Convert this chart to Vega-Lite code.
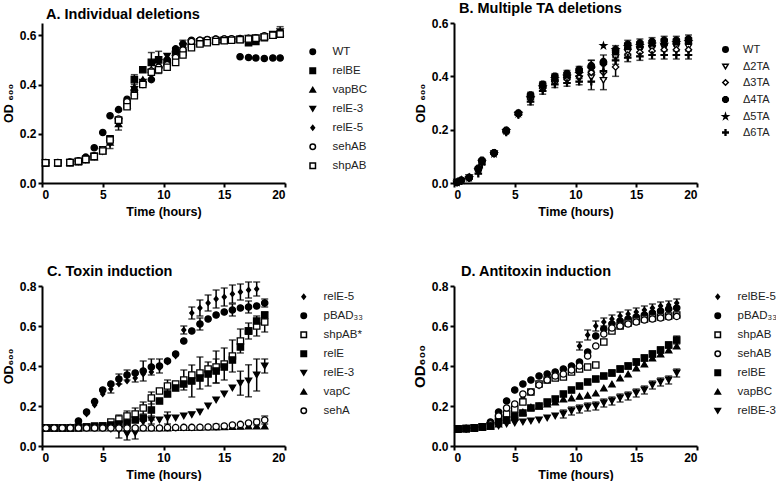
{
"$schema":"https://vega.github.io/schema/vega-lite/v6.json",
"background":"white",
"padding":{"left":2,"top":0,"right":0,"bottom":0},
"config":{
 "view":{"stroke":null},
 "font":"Liberation Sans",
 "axis":{"grid":false,"domainColor":"black","domainWidth":2,"tickColor":"black","tickWidth":2,"tickSize":4,"labelFont":"Liberation Sans","labelFontWeight":"bold","labelFontSize":12,"labelColor":"black","labelPadding":2,"titleFont":"Liberation Sans","titleFontWeight":"bold","titleFontSize":12.5,"titleColor":"black"},
 "axisY":{"titlePadding":4},
 "axisX":{"titlePadding":5},
 "legend":{"title":null,"labelFont":"Liberation Sans","labelFontSize":11.5,"labelColor":"#222","symbolStrokeColor":"black","symbolStrokeWidth":1.5,"symbolSize":30,"padding":0,"labelOffset":14,"rowPadding":6},
 "title":{"font":"Liberation Sans","fontSize":14.5,"fontWeight":"bold","anchor":"start","frame":"group","color":"black","offset":1}
},
"resolve":{"scale":{"x":"independent","y":"independent","shape":"independent","fill":"independent","stroke":"independent"},"legend":{"shape":"independent","fill":"independent","stroke":"independent"}},
"datasets":{
"A":[
{"s":"WT","t":0.3,"y":0.083},{"s":"WT","t":1.3,"y":0.083},{"s":"WT","t":2.3,"y":0.085},{"s":"WT","t":3.0,"y":0.09},{"s":"WT","t":3.6,"y":0.105},{"s":"WT","t":4.3,"y":0.143},{"s":"WT","t":5.0,"y":0.205},{"s":"WT","t":5.6,"y":0.273},{"s":"WT","t":6.3,"y":0.298},{"s":"WT","t":7.0,"y":0.34},{"s":"WT","t":7.6,"y":0.375},{"s":"WT","t":8.3,"y":0.41},{"s":"WT","t":9.0,"y":0.42},{"s":"WT","t":9.6,"y":0.47},{"s":"WT","t":10.3,"y":0.5},{"s":"WT","t":11.0,"y":0.545},{"s":"WT","t":11.6,"y":0.565},{"s":"WT","t":12.3,"y":0.58},{"s":"WT","t":13.0,"y":0.58},{"s":"WT","t":13.6,"y":0.583},{"s":"WT","t":14.3,"y":0.585},{"s":"WT","t":15.0,"y":0.585},{"s":"WT","t":15.6,"y":0.585},{"s":"WT","t":16.3,"y":0.513},{"s":"WT","t":17.0,"y":0.51},{"s":"WT","t":17.6,"y":0.508},{"s":"WT","t":18.3,"y":0.506},{"s":"WT","t":19.0,"y":0.508},{"s":"WT","t":19.6,"y":0.508},
{"s":"relBE","t":0.3,"y":0.082},{"s":"relBE","t":1.3,"y":0.082},{"s":"relBE","t":2.3,"y":0.083},{"s":"relBE","t":3.0,"y":0.087},{"s":"relBE","t":3.6,"y":0.096},{"s":"relBE","t":4.3,"y":0.108},{"s":"relBE","t":5.0,"y":0.135},{"s":"relBE","t":5.6,"y":0.18},{"s":"relBE","t":6.3,"y":0.255},{"s":"relBE","t":7.0,"y":0.32},{"s":"relBE","t":7.6,"y":0.42,"e":0.02},{"s":"relBE","t":8.3,"y":0.46},{"s":"relBE","t":9.0,"y":0.49,"e":0.04},{"s":"relBE","t":9.6,"y":0.5},{"s":"relBE","t":10.3,"y":0.49},{"s":"relBE","t":11.0,"y":0.525},{"s":"relBE","t":11.6,"y":0.53},{"s":"relBE","t":12.3,"y":0.565},{"s":"relBE","t":13.0,"y":0.57},{"s":"relBE","t":13.6,"y":0.575},{"s":"relBE","t":14.3,"y":0.578},{"s":"relBE","t":15.0,"y":0.58},{"s":"relBE","t":15.6,"y":0.582},{"s":"relBE","t":16.3,"y":0.583},{"s":"relBE","t":17.0,"y":0.57,"e":0.01},{"s":"relBE","t":17.6,"y":0.575},{"s":"relBE","t":18.3,"y":0.59},{"s":"relBE","t":19.0,"y":0.6},{"s":"relBE","t":19.6,"y":0.605},
{"s":"vapBC","t":0.3,"y":0.082},{"s":"vapBC","t":1.3,"y":0.082},{"s":"vapBC","t":2.3,"y":0.083},{"s":"vapBC","t":3.0,"y":0.087},{"s":"vapBC","t":3.6,"y":0.094},{"s":"vapBC","t":4.3,"y":0.105},{"s":"vapBC","t":5.0,"y":0.13},{"s":"vapBC","t":5.6,"y":0.165},{"s":"vapBC","t":6.3,"y":0.24,"e":0.025},{"s":"vapBC","t":7.0,"y":0.315},{"s":"vapBC","t":7.6,"y":0.39},{"s":"vapBC","t":8.3,"y":0.42},{"s":"vapBC","t":9.0,"y":0.46},{"s":"vapBC","t":9.6,"y":0.48},{"s":"vapBC","t":10.3,"y":0.5},{"s":"vapBC","t":11.0,"y":0.53,"e":0.02},{"s":"vapBC","t":11.6,"y":0.56,"e":0.02},{"s":"vapBC","t":12.3,"y":0.575},{"s":"vapBC","t":13.0,"y":0.578},{"s":"vapBC","t":13.6,"y":0.58},{"s":"vapBC","t":14.3,"y":0.582},{"s":"vapBC","t":15.0,"y":0.583},{"s":"vapBC","t":15.6,"y":0.585},{"s":"vapBC","t":16.3,"y":0.586},{"s":"vapBC","t":17.0,"y":0.588},{"s":"vapBC","t":17.6,"y":0.59},{"s":"vapBC","t":18.3,"y":0.595},{"s":"vapBC","t":19.0,"y":0.6},{"s":"vapBC","t":19.6,"y":0.61},
{"s":"relE-3","t":0.3,"y":0.082},{"s":"relE-3","t":1.3,"y":0.082},{"s":"relE-3","t":2.3,"y":0.083},{"s":"relE-3","t":3.0,"y":0.087},{"s":"relE-3","t":3.6,"y":0.095},{"s":"relE-3","t":4.3,"y":0.107},{"s":"relE-3","t":5.0,"y":0.128},{"s":"relE-3","t":5.6,"y":0.16,"e":0.02},{"s":"relE-3","t":6.3,"y":0.25},{"s":"relE-3","t":7.0,"y":0.32},{"s":"relE-3","t":7.6,"y":0.38},{"s":"relE-3","t":8.3,"y":0.41},{"s":"relE-3","t":9.0,"y":0.45},{"s":"relE-3","t":9.6,"y":0.49,"e":0.045},{"s":"relE-3","t":10.3,"y":0.515},{"s":"relE-3","t":11.0,"y":0.52},{"s":"relE-3","t":11.6,"y":0.555},{"s":"relE-3","t":12.3,"y":0.57},{"s":"relE-3","t":13.0,"y":0.575},{"s":"relE-3","t":13.6,"y":0.578},{"s":"relE-3","t":14.3,"y":0.58},{"s":"relE-3","t":15.0,"y":0.58},{"s":"relE-3","t":15.6,"y":0.582},{"s":"relE-3","t":16.3,"y":0.585},{"s":"relE-3","t":17.0,"y":0.588},{"s":"relE-3","t":17.6,"y":0.59},{"s":"relE-3","t":18.3,"y":0.595},{"s":"relE-3","t":19.0,"y":0.605},{"s":"relE-3","t":19.6,"y":0.615,"e":0.02},
{"s":"relE-5","t":0.3,"y":0.082},{"s":"relE-5","t":1.3,"y":0.082},{"s":"relE-5","t":2.3,"y":0.083},{"s":"relE-5","t":3.0,"y":0.087},{"s":"relE-5","t":3.6,"y":0.095},{"s":"relE-5","t":4.3,"y":0.108},{"s":"relE-5","t":5.0,"y":0.13},{"s":"relE-5","t":5.6,"y":0.17},{"s":"relE-5","t":6.3,"y":0.255},{"s":"relE-5","t":7.0,"y":0.325},{"s":"relE-5","t":7.6,"y":0.37},{"s":"relE-5","t":8.3,"y":0.405},{"s":"relE-5","t":9.0,"y":0.455},{"s":"relE-5","t":9.6,"y":0.465},{"s":"relE-5","t":10.3,"y":0.49},{"s":"relE-5","t":11.0,"y":0.51},{"s":"relE-5","t":11.6,"y":0.55},{"s":"relE-5","t":12.3,"y":0.57},{"s":"relE-5","t":13.0,"y":0.575},{"s":"relE-5","t":13.6,"y":0.578},{"s":"relE-5","t":14.3,"y":0.58},{"s":"relE-5","t":15.0,"y":0.582},{"s":"relE-5","t":15.6,"y":0.583},{"s":"relE-5","t":16.3,"y":0.585},{"s":"relE-5","t":17.0,"y":0.587},{"s":"relE-5","t":17.6,"y":0.59},{"s":"relE-5","t":18.3,"y":0.595},{"s":"relE-5","t":19.0,"y":0.6},{"s":"relE-5","t":19.6,"y":0.605},
{"s":"sehAB","t":0.3,"y":0.082},{"s":"sehAB","t":1.3,"y":0.082},{"s":"sehAB","t":2.3,"y":0.084},{"s":"sehAB","t":3.0,"y":0.088},{"s":"sehAB","t":3.6,"y":0.097},{"s":"sehAB","t":4.3,"y":0.11},{"s":"sehAB","t":5.0,"y":0.135},{"s":"sehAB","t":5.6,"y":0.175},{"s":"sehAB","t":6.3,"y":0.26},{"s":"sehAB","t":7.0,"y":0.33},{"s":"sehAB","t":7.6,"y":0.36},{"s":"sehAB","t":8.3,"y":0.4},{"s":"sehAB","t":9.0,"y":0.455},{"s":"sehAB","t":9.6,"y":0.47},{"s":"sehAB","t":10.3,"y":0.48},{"s":"sehAB","t":11.0,"y":0.51},{"s":"sehAB","t":11.6,"y":0.54},{"s":"sehAB","t":12.3,"y":0.575},{"s":"sehAB","t":13.0,"y":0.58},{"s":"sehAB","t":13.6,"y":0.582},{"s":"sehAB","t":14.3,"y":0.584},{"s":"sehAB","t":15.0,"y":0.585},{"s":"sehAB","t":15.6,"y":0.586},{"s":"sehAB","t":16.3,"y":0.587},{"s":"sehAB","t":17.0,"y":0.588},{"s":"sehAB","t":17.6,"y":0.59},{"s":"sehAB","t":18.3,"y":0.598},{"s":"sehAB","t":19.0,"y":0.602},{"s":"sehAB","t":19.6,"y":0.607},
{"s":"shpAB","t":0.3,"y":0.082},{"s":"shpAB","t":1.3,"y":0.082},{"s":"shpAB","t":2.3,"y":0.083},{"s":"shpAB","t":3.0,"y":0.088},{"s":"shpAB","t":3.6,"y":0.096},{"s":"shpAB","t":4.3,"y":0.108},{"s":"shpAB","t":5.0,"y":0.13},{"s":"shpAB","t":5.6,"y":0.175},{"s":"shpAB","t":6.3,"y":0.255},{"s":"shpAB","t":7.0,"y":0.31},{"s":"shpAB","t":7.6,"y":0.355},{"s":"shpAB","t":8.3,"y":0.4},{"s":"shpAB","t":9.0,"y":0.45},{"s":"shpAB","t":9.6,"y":0.46},{"s":"shpAB","t":10.3,"y":0.47},{"s":"shpAB","t":11.0,"y":0.49},{"s":"shpAB","t":11.6,"y":0.52},{"s":"shpAB","t":12.3,"y":0.55},{"s":"shpAB","t":13.0,"y":0.565},{"s":"shpAB","t":13.6,"y":0.57},{"s":"shpAB","t":14.3,"y":0.575},{"s":"shpAB","t":15.0,"y":0.578},{"s":"shpAB","t":15.6,"y":0.58},{"s":"shpAB","t":16.3,"y":0.582},{"s":"shpAB","t":17.0,"y":0.585},{"s":"shpAB","t":17.6,"y":0.588},{"s":"shpAB","t":18.3,"y":0.593},{"s":"shpAB","t":19.0,"y":0.6},{"s":"shpAB","t":19.6,"y":0.605}
],
"B":[
{"s":"WT","t":0.25,"y":0.002},{"s":"WT","t":0.6,"y":0.01},{"s":"WT","t":1.25,"y":0.02},{"s":"WT","t":2.0,"y":0.05},{"s":"WT","t":2.3,"y":0.08},{"s":"WT","t":3.3,"y":0.112},{"s":"WT","t":4.3,"y":0.195},{"s":"WT","t":5.3,"y":0.26},{"s":"WT","t":6.3,"y":0.325},{"s":"WT","t":7.3,"y":0.36},{"s":"WT","t":8.3,"y":0.385},{"s":"WT","t":9.3,"y":0.4},{"s":"WT","t":10.3,"y":0.42},{"s":"WT","t":11.3,"y":0.44,"e":0.02},{"s":"WT","t":12.3,"y":0.455},{"s":"WT","t":13.3,"y":0.49},{"s":"WT","t":14.3,"y":0.505},{"s":"WT","t":15.3,"y":0.51},{"s":"WT","t":16.3,"y":0.515},{"s":"WT","t":17.3,"y":0.52},{"s":"WT","t":18.3,"y":0.525},{"s":"WT","t":19.3,"y":0.53},
{"s":"Δ2TA","t":0.25,"y":0.003},{"s":"Δ2TA","t":0.6,"y":0.008},{"s":"Δ2TA","t":1.25,"y":0.02},{"s":"Δ2TA","t":2.0,"y":0.045},{"s":"Δ2TA","t":2.3,"y":0.075},{"s":"Δ2TA","t":3.3,"y":0.11},{"s":"Δ2TA","t":4.3,"y":0.19},{"s":"Δ2TA","t":5.3,"y":0.255},{"s":"Δ2TA","t":6.3,"y":0.31},{"s":"Δ2TA","t":7.3,"y":0.35},{"s":"Δ2TA","t":8.3,"y":0.375},{"s":"Δ2TA","t":9.3,"y":0.385},{"s":"Δ2TA","t":10.3,"y":0.39},{"s":"Δ2TA","t":11.3,"y":0.395},{"s":"Δ2TA","t":12.3,"y":0.385,"e":0.035},{"s":"Δ2TA","t":13.3,"y":0.47},{"s":"Δ2TA","t":14.3,"y":0.49},{"s":"Δ2TA","t":15.3,"y":0.5},{"s":"Δ2TA","t":16.3,"y":0.505},{"s":"Δ2TA","t":17.3,"y":0.51},{"s":"Δ2TA","t":18.3,"y":0.51},{"s":"Δ2TA","t":19.3,"y":0.51},
{"s":"Δ3TA","t":0.25,"y":0.002},{"s":"Δ3TA","t":0.6,"y":0.01},{"s":"Δ3TA","t":1.25,"y":0.022},{"s":"Δ3TA","t":2.0,"y":0.05},{"s":"Δ3TA","t":2.3,"y":0.08},{"s":"Δ3TA","t":3.3,"y":0.112},{"s":"Δ3TA","t":4.3,"y":0.192},{"s":"Δ3TA","t":5.3,"y":0.258},{"s":"Δ3TA","t":6.3,"y":0.315},{"s":"Δ3TA","t":7.3,"y":0.355},{"s":"Δ3TA","t":8.3,"y":0.38},{"s":"Δ3TA","t":9.3,"y":0.39},{"s":"Δ3TA","t":10.3,"y":0.4},{"s":"Δ3TA","t":11.3,"y":0.415},{"s":"Δ3TA","t":12.3,"y":0.415},{"s":"Δ3TA","t":13.3,"y":0.435,"e":0.035},{"s":"Δ3TA","t":14.3,"y":0.48},{"s":"Δ3TA","t":15.3,"y":0.49},{"s":"Δ3TA","t":16.3,"y":0.495},{"s":"Δ3TA","t":17.3,"y":0.5},{"s":"Δ3TA","t":18.3,"y":0.5},{"s":"Δ3TA","t":19.3,"y":0.5},
{"s":"Δ4TA","t":0.25,"y":0.003},{"s":"Δ4TA","t":0.6,"y":0.01},{"s":"Δ4TA","t":1.25,"y":0.02},{"s":"Δ4TA","t":2.0,"y":0.055},{"s":"Δ4TA","t":2.3,"y":0.085},{"s":"Δ4TA","t":3.3,"y":0.113},{"s":"Δ4TA","t":4.3,"y":0.198},{"s":"Δ4TA","t":5.3,"y":0.262},{"s":"Δ4TA","t":6.3,"y":0.33,"e":0.01},{"s":"Δ4TA","t":7.3,"y":0.37,"e":0.01},{"s":"Δ4TA","t":8.3,"y":0.4,"e":0.01},{"s":"Δ4TA","t":9.3,"y":0.41,"e":0.012},{"s":"Δ4TA","t":10.3,"y":0.425,"e":0.012},{"s":"Δ4TA","t":11.3,"y":0.435,"e":0.025},{"s":"Δ4TA","t":12.3,"y":0.45,"e":0.03},{"s":"Δ4TA","t":13.3,"y":0.5,"e":0.015},{"s":"Δ4TA","t":14.3,"y":0.52,"e":0.015},{"s":"Δ4TA","t":15.3,"y":0.525,"e":0.015},{"s":"Δ4TA","t":16.3,"y":0.53,"e":0.015},{"s":"Δ4TA","t":17.3,"y":0.535,"e":0.015},{"s":"Δ4TA","t":18.3,"y":0.535,"e":0.015},{"s":"Δ4TA","t":19.3,"y":0.54,"e":0.015},
{"s":"Δ5TA","t":0.25,"y":0.002},{"s":"Δ5TA","t":0.6,"y":0.01},{"s":"Δ5TA","t":1.25,"y":0.02},{"s":"Δ5TA","t":2.0,"y":0.05},{"s":"Δ5TA","t":2.3,"y":0.08},{"s":"Δ5TA","t":3.3,"y":0.11},{"s":"Δ5TA","t":4.3,"y":0.195},{"s":"Δ5TA","t":5.3,"y":0.26},{"s":"Δ5TA","t":6.3,"y":0.32},{"s":"Δ5TA","t":7.3,"y":0.36},{"s":"Δ5TA","t":8.3,"y":0.39},{"s":"Δ5TA","t":9.3,"y":0.4},{"s":"Δ5TA","t":10.3,"y":0.41},{"s":"Δ5TA","t":11.3,"y":0.43},{"s":"Δ5TA","t":12.3,"y":0.515},{"s":"Δ5TA","t":13.3,"y":0.5},{"s":"Δ5TA","t":14.3,"y":0.51},{"s":"Δ5TA","t":15.3,"y":0.515},{"s":"Δ5TA","t":16.3,"y":0.52},{"s":"Δ5TA","t":17.3,"y":0.52},{"s":"Δ5TA","t":18.3,"y":0.525},{"s":"Δ5TA","t":19.3,"y":0.53},
{"s":"Δ6TA","t":0.25,"y":0.002},{"s":"Δ6TA","t":0.6,"y":0.008},{"s":"Δ6TA","t":1.25,"y":0.018},{"s":"Δ6TA","t":2.0,"y":0.035},{"s":"Δ6TA","t":2.3,"y":0.07},{"s":"Δ6TA","t":3.3,"y":0.11},{"s":"Δ6TA","t":4.3,"y":0.19},{"s":"Δ6TA","t":5.3,"y":0.255},{"s":"Δ6TA","t":6.3,"y":0.305,"e":0.012},{"s":"Δ6TA","t":7.3,"y":0.345,"e":0.012},{"s":"Δ6TA","t":8.3,"y":0.37,"e":0.012},{"s":"Δ6TA","t":9.3,"y":0.375,"e":0.012},{"s":"Δ6TA","t":10.3,"y":0.38,"e":0.012},{"s":"Δ6TA","t":11.3,"y":0.38,"e":0.03},{"s":"Δ6TA","t":12.3,"y":0.42,"e":0.03},{"s":"Δ6TA","t":13.3,"y":0.46,"e":0.015},{"s":"Δ6TA","t":14.3,"y":0.47,"e":0.015},{"s":"Δ6TA","t":15.3,"y":0.475,"e":0.015},{"s":"Δ6TA","t":16.3,"y":0.48,"e":0.015},{"s":"Δ6TA","t":17.3,"y":0.48,"e":0.015},{"s":"Δ6TA","t":18.3,"y":0.48,"e":0.015},{"s":"Δ6TA","t":19.3,"y":0.48,"e":0.015}
],
"C":[
{"s":"relE-5","t":0.33,"y":0.09},{"s":"relE-5","t":1.0,"y":0.09},{"s":"relE-5","t":1.67,"y":0.09},{"s":"relE-5","t":2.33,"y":0.09},{"s":"relE-5","t":3.0,"y":0.1},{"s":"relE-5","t":3.67,"y":0.16},{"s":"relE-5","t":4.33,"y":0.205},{"s":"relE-5","t":5.0,"y":0.26},{"s":"relE-5","t":5.67,"y":0.285,"e":0.02},{"s":"relE-5","t":6.33,"y":0.31},{"s":"relE-5","t":7.0,"y":0.325},{"s":"relE-5","t":7.67,"y":0.34,"e":0.02},{"s":"relE-5","t":8.33,"y":0.36},{"s":"relE-5","t":9.0,"y":0.37},{"s":"relE-5","t":9.67,"y":0.39},{"s":"relE-5","t":10.33,"y":0.42},{"s":"relE-5","t":11.0,"y":0.45},{"s":"relE-5","t":11.67,"y":0.58,"e":0.02},{"s":"relE-5","t":12.33,"y":0.665,"e":0.03},{"s":"relE-5","t":13.0,"y":0.69,"e":0.04},{"s":"relE-5","t":13.67,"y":0.715,"e":0.04},{"s":"relE-5","t":14.33,"y":0.735,"e":0.045},{"s":"relE-5","t":15.0,"y":0.745,"e":0.045},{"s":"relE-5","t":15.67,"y":0.76,"e":0.045},{"s":"relE-5","t":16.33,"y":0.77,"e":0.04},{"s":"relE-5","t":17.0,"y":0.78,"e":0.04},{"s":"relE-5","t":17.67,"y":0.785,"e":0.035},
{"s":"pBAD33","t":0.33,"y":0.09},{"s":"pBAD33","t":1.0,"y":0.09},{"s":"pBAD33","t":1.67,"y":0.09},{"s":"pBAD33","t":2.33,"y":0.092},{"s":"pBAD33","t":3.0,"y":0.125},{"s":"pBAD33","t":3.67,"y":0.17},{"s":"pBAD33","t":4.33,"y":0.222},{"s":"pBAD33","t":5.0,"y":0.28},{"s":"pBAD33","t":5.67,"y":0.31},{"s":"pBAD33","t":6.33,"y":0.335,"e":0.025},{"s":"pBAD33","t":7.0,"y":0.355,"e":0.025},{"s":"pBAD33","t":7.67,"y":0.365},{"s":"pBAD33","t":8.33,"y":0.375,"e":0.05},{"s":"pBAD33","t":9.0,"y":0.395,"e":0.04},{"s":"pBAD33","t":9.67,"y":0.4,"e":0.035},{"s":"pBAD33","t":10.33,"y":0.425},{"s":"pBAD33","t":11.0,"y":0.46},{"s":"pBAD33","t":11.67,"y":0.525},{"s":"pBAD33","t":12.33,"y":0.575},{"s":"pBAD33","t":13.0,"y":0.61,"e":0.03},{"s":"pBAD33","t":13.67,"y":0.635},{"s":"pBAD33","t":14.33,"y":0.655},{"s":"pBAD33","t":15.0,"y":0.67},{"s":"pBAD33","t":15.67,"y":0.68,"e":0.03},{"s":"pBAD33","t":16.33,"y":0.69},{"s":"pBAD33","t":17.0,"y":0.695,"e":0.03},{"s":"pBAD33","t":17.67,"y":0.7},{"s":"pBAD33","t":18.33,"y":0.715,"e":0.02},
{"s":"shpAB*","t":0.33,"y":0.09},{"s":"shpAB*","t":1.0,"y":0.09},{"s":"shpAB*","t":1.67,"y":0.09},{"s":"shpAB*","t":2.33,"y":0.09},{"s":"shpAB*","t":3.0,"y":0.09},{"s":"shpAB*","t":3.67,"y":0.095},{"s":"shpAB*","t":4.33,"y":0.095},{"s":"shpAB*","t":5.0,"y":0.1},{"s":"shpAB*","t":5.67,"y":0.12},{"s":"shpAB*","t":6.33,"y":0.135,"e":0.02},{"s":"shpAB*","t":7.0,"y":0.15,"e":0.025},{"s":"shpAB*","t":7.67,"y":0.16,"e":0.03},{"s":"shpAB*","t":8.33,"y":0.19,"e":0.03},{"s":"shpAB*","t":9.0,"y":0.24,"e":0.03},{"s":"shpAB*","t":9.67,"y":0.275},{"s":"shpAB*","t":10.33,"y":0.3,"e":0.03},{"s":"shpAB*","t":11.0,"y":0.31},{"s":"shpAB*","t":11.67,"y":0.33,"e":0.05},{"s":"shpAB*","t":12.33,"y":0.355},{"s":"shpAB*","t":13.0,"y":0.365,"e":0.08},{"s":"shpAB*","t":13.67,"y":0.385},{"s":"shpAB*","t":14.33,"y":0.395,"e":0.08},{"s":"shpAB*","t":15.0,"y":0.41,"e":0.08},{"s":"shpAB*","t":15.67,"y":0.45,"e":0.08},{"s":"shpAB*","t":16.33,"y":0.525,"e":0.06},{"s":"shpAB*","t":17.0,"y":0.575,"e":0.04},{"s":"shpAB*","t":17.67,"y":0.6,"e":0.05},{"s":"shpAB*","t":18.33,"y":0.62,"e":0.05},
{"s":"relE","t":0.33,"y":0.09},{"s":"relE","t":1.0,"y":0.09},{"s":"relE","t":1.67,"y":0.09},{"s":"relE","t":2.33,"y":0.09},{"s":"relE","t":3.0,"y":0.095},{"s":"relE","t":3.67,"y":0.095},{"s":"relE","t":4.33,"y":0.1},{"s":"relE","t":5.0,"y":0.1},{"s":"relE","t":5.67,"y":0.105},{"s":"relE","t":6.33,"y":0.11},{"s":"relE","t":7.0,"y":0.115},{"s":"relE","t":7.67,"y":0.13},{"s":"relE","t":8.33,"y":0.14},{"s":"relE","t":9.0,"y":0.18,"e":0.05},{"s":"relE","t":9.67,"y":0.225},{"s":"relE","t":10.33,"y":0.26},{"s":"relE","t":11.0,"y":0.29},{"s":"relE","t":11.67,"y":0.31},{"s":"relE","t":12.33,"y":0.325,"e":0.08},{"s":"relE","t":13.0,"y":0.34},{"s":"relE","t":13.67,"y":0.36,"e":0.06},{"s":"relE","t":14.33,"y":0.375,"e":0.06},{"s":"relE","t":15.0,"y":0.395},{"s":"relE","t":15.67,"y":0.43},{"s":"relE","t":16.33,"y":0.495},{"s":"relE","t":17.0,"y":0.575},{"s":"relE","t":17.67,"y":0.625},{"s":"relE","t":18.33,"y":0.655},
{"s":"relE-3","t":0.33,"y":0.09},{"s":"relE-3","t":1.0,"y":0.09},{"s":"relE-3","t":1.67,"y":0.09},{"s":"relE-3","t":2.33,"y":0.09},{"s":"relE-3","t":3.0,"y":0.09},{"s":"relE-3","t":3.67,"y":0.09},{"s":"relE-3","t":4.33,"y":0.09},{"s":"relE-3","t":5.0,"y":0.09},{"s":"relE-3","t":5.67,"y":0.085},{"s":"relE-3","t":6.33,"y":0.08,"e":0.04},{"s":"relE-3","t":7.0,"y":0.06,"e":0.03},{"s":"relE-3","t":7.67,"y":0.065,"e":0.03},{"s":"relE-3","t":8.33,"y":0.12},{"s":"relE-3","t":9.0,"y":0.13,"e":0.02},{"s":"relE-3","t":9.67,"y":0.13},{"s":"relE-3","t":10.33,"y":0.14,"e":0.03},{"s":"relE-3","t":11.0,"y":0.14},{"s":"relE-3","t":11.67,"y":0.15},{"s":"relE-3","t":12.33,"y":0.157},{"s":"relE-3","t":13.0,"y":0.17},{"s":"relE-3","t":13.67,"y":0.2},{"s":"relE-3","t":14.33,"y":0.23},{"s":"relE-3","t":15.0,"y":0.26},{"s":"relE-3","t":15.67,"y":0.29},{"s":"relE-3","t":16.33,"y":0.314,"e":0.06},{"s":"relE-3","t":17.0,"y":0.326,"e":0.08},{"s":"relE-3","t":17.67,"y":0.355,"e":0.08},{"s":"relE-3","t":18.33,"y":0.4,"e":0.035},
{"s":"vapC","t":0.33,"y":0.09},{"s":"vapC","t":1.0,"y":0.09},{"s":"vapC","t":1.67,"y":0.09},{"s":"vapC","t":2.33,"y":0.09},{"s":"vapC","t":3.0,"y":0.09},{"s":"vapC","t":3.67,"y":0.09},{"s":"vapC","t":4.33,"y":0.09},{"s":"vapC","t":5.0,"y":0.09},{"s":"vapC","t":5.67,"y":0.09},{"s":"vapC","t":6.33,"y":0.09},{"s":"vapC","t":7.0,"y":0.09},{"s":"vapC","t":7.67,"y":0.09},{"s":"vapC","t":8.33,"y":0.09},{"s":"vapC","t":9.0,"y":0.09},{"s":"vapC","t":9.67,"y":0.09},{"s":"vapC","t":10.33,"y":0.09},{"s":"vapC","t":11.0,"y":0.092},{"s":"vapC","t":11.67,"y":0.092},{"s":"vapC","t":12.33,"y":0.092},{"s":"vapC","t":13.0,"y":0.093},{"s":"vapC","t":13.67,"y":0.094},{"s":"vapC","t":14.33,"y":0.095},{"s":"vapC","t":15.0,"y":0.096},{"s":"vapC","t":15.67,"y":0.097},{"s":"vapC","t":16.33,"y":0.098},{"s":"vapC","t":17.0,"y":0.1},{"s":"vapC","t":17.67,"y":0.1},{"s":"vapC","t":18.33,"y":0.1},
{"s":"sehA","t":0.33,"y":0.09},{"s":"sehA","t":1.0,"y":0.09},{"s":"sehA","t":1.67,"y":0.09},{"s":"sehA","t":2.33,"y":0.09},{"s":"sehA","t":3.0,"y":0.09},{"s":"sehA","t":3.67,"y":0.09},{"s":"sehA","t":4.33,"y":0.09},{"s":"sehA","t":5.0,"y":0.09},{"s":"sehA","t":5.67,"y":0.09},{"s":"sehA","t":6.33,"y":0.09},{"s":"sehA","t":7.0,"y":0.09},{"s":"sehA","t":7.67,"y":0.09},{"s":"sehA","t":8.33,"y":0.09},{"s":"sehA","t":9.0,"y":0.09},{"s":"sehA","t":9.67,"y":0.09},{"s":"sehA","t":10.33,"y":0.092},{"s":"sehA","t":11.0,"y":0.092},{"s":"sehA","t":11.67,"y":0.093},{"s":"sehA","t":12.33,"y":0.093},{"s":"sehA","t":13.0,"y":0.094},{"s":"sehA","t":13.67,"y":0.095},{"s":"sehA","t":14.33,"y":0.097,"e":0.012},{"s":"sehA","t":15.0,"y":0.1},{"s":"sehA","t":15.67,"y":0.105},{"s":"sehA","t":16.33,"y":0.108},{"s":"sehA","t":17.0,"y":0.115},{"s":"sehA","t":17.67,"y":0.12,"e":0.015},{"s":"sehA","t":18.33,"y":0.13,"e":0.02}
],
"D":[
{"s":"relBE-5","t":0.33,"y":0.085},{"s":"relBE-5","t":1.0,"y":0.087},{"s":"relBE-5","t":1.67,"y":0.09},{"s":"relBE-5","t":2.33,"y":0.095},{"s":"relBE-5","t":3.0,"y":0.11},{"s":"relBE-5","t":3.67,"y":0.15},{"s":"relBE-5","t":4.33,"y":0.18},{"s":"relBE-5","t":5.0,"y":0.2},{"s":"relBE-5","t":5.67,"y":0.24},{"s":"relBE-5","t":6.33,"y":0.27},{"s":"relBE-5","t":7.0,"y":0.3},{"s":"relBE-5","t":7.67,"y":0.33},{"s":"relBE-5","t":8.33,"y":0.35},{"s":"relBE-5","t":9.0,"y":0.37},{"s":"relBE-5","t":9.67,"y":0.39,"e":0.015},{"s":"relBE-5","t":10.33,"y":0.5,"e":0.02},{"s":"relBE-5","t":11.0,"y":0.555,"e":0.025},{"s":"relBE-5","t":11.67,"y":0.6,"e":0.025},{"s":"relBE-5","t":12.33,"y":0.62,"e":0.02},{"s":"relBE-5","t":13.0,"y":0.635,"e":0.02},{"s":"relBE-5","t":13.67,"y":0.65,"e":0.02},{"s":"relBE-5","t":14.33,"y":0.66,"e":0.02},{"s":"relBE-5","t":15.0,"y":0.67,"e":0.02},{"s":"relBE-5","t":15.67,"y":0.68,"e":0.02},{"s":"relBE-5","t":16.33,"y":0.69,"e":0.02},{"s":"relBE-5","t":17.0,"y":0.7,"e":0.02},{"s":"relBE-5","t":17.67,"y":0.705,"e":0.02},{"s":"relBE-5","t":18.33,"y":0.715,"e":0.02},
{"s":"pBAD33","t":0.33,"y":0.085},{"s":"pBAD33","t":1.0,"y":0.087},{"s":"pBAD33","t":1.67,"y":0.09},{"s":"pBAD33","t":2.33,"y":0.095},{"s":"pBAD33","t":3.0,"y":0.12},{"s":"pBAD33","t":3.67,"y":0.17},{"s":"pBAD33","t":4.33,"y":0.225},{"s":"pBAD33","t":5.0,"y":0.28},{"s":"pBAD33","t":5.67,"y":0.31},{"s":"pBAD33","t":6.33,"y":0.33},{"s":"pBAD33","t":7.0,"y":0.35},{"s":"pBAD33","t":7.67,"y":0.36},{"s":"pBAD33","t":8.33,"y":0.37},{"s":"pBAD33","t":9.0,"y":0.385},{"s":"pBAD33","t":9.67,"y":0.4},{"s":"pBAD33","t":10.33,"y":0.42},{"s":"pBAD33","t":11.0,"y":0.47},{"s":"pBAD33","t":11.67,"y":0.55},{"s":"pBAD33","t":12.33,"y":0.585},{"s":"pBAD33","t":13.0,"y":0.61},{"s":"pBAD33","t":13.67,"y":0.625},{"s":"pBAD33","t":14.33,"y":0.635},{"s":"pBAD33","t":15.0,"y":0.645},{"s":"pBAD33","t":15.67,"y":0.655},{"s":"pBAD33","t":16.33,"y":0.665},{"s":"pBAD33","t":17.0,"y":0.675},{"s":"pBAD33","t":17.67,"y":0.685},{"s":"pBAD33","t":18.33,"y":0.69},
{"s":"shpAB","t":0.33,"y":0.085},{"s":"shpAB","t":1.0,"y":0.087},{"s":"shpAB","t":1.67,"y":0.09},{"s":"shpAB","t":2.33,"y":0.095},{"s":"shpAB","t":3.0,"y":0.1},{"s":"shpAB","t":3.67,"y":0.14},{"s":"shpAB","t":4.33,"y":0.16},{"s":"shpAB","t":5.0,"y":0.185},{"s":"shpAB","t":5.67,"y":0.22},{"s":"shpAB","t":6.33,"y":0.27},{"s":"shpAB","t":7.0,"y":0.31},{"s":"shpAB","t":7.67,"y":0.33},{"s":"shpAB","t":8.33,"y":0.34},{"s":"shpAB","t":9.0,"y":0.345},{"s":"shpAB","t":9.67,"y":0.37},{"s":"shpAB","t":10.33,"y":0.385},{"s":"shpAB","t":11.0,"y":0.395},{"s":"shpAB","t":11.67,"y":0.405},{"s":"shpAB","t":12.33,"y":0.52},{"s":"shpAB","t":13.0,"y":0.575},{"s":"shpAB","t":13.67,"y":0.6},{"s":"shpAB","t":14.33,"y":0.615},{"s":"shpAB","t":15.0,"y":0.625},{"s":"shpAB","t":15.67,"y":0.635},{"s":"shpAB","t":16.33,"y":0.64},{"s":"shpAB","t":17.0,"y":0.645},{"s":"shpAB","t":17.67,"y":0.65},{"s":"shpAB","t":18.33,"y":0.655},
{"s":"sehAB","t":0.33,"y":0.085},{"s":"sehAB","t":1.0,"y":0.087},{"s":"sehAB","t":1.67,"y":0.09},{"s":"sehAB","t":2.33,"y":0.095},{"s":"sehAB","t":3.0,"y":0.11},{"s":"sehAB","t":3.67,"y":0.15},{"s":"sehAB","t":4.33,"y":0.19},{"s":"sehAB","t":5.0,"y":0.21},{"s":"sehAB","t":5.67,"y":0.26},{"s":"sehAB","t":6.33,"y":0.27},{"s":"sehAB","t":7.0,"y":0.305},{"s":"sehAB","t":7.67,"y":0.33},{"s":"sehAB","t":8.33,"y":0.35},{"s":"sehAB","t":9.0,"y":0.36},{"s":"sehAB","t":9.67,"y":0.38},{"s":"sehAB","t":10.33,"y":0.4},{"s":"sehAB","t":11.0,"y":0.45},{"s":"sehAB","t":11.67,"y":0.5},{"s":"sehAB","t":12.33,"y":0.56},{"s":"sehAB","t":13.0,"y":0.59},{"s":"sehAB","t":13.67,"y":0.6},{"s":"sehAB","t":14.33,"y":0.61},{"s":"sehAB","t":15.0,"y":0.62},{"s":"sehAB","t":15.67,"y":0.63},{"s":"sehAB","t":16.33,"y":0.635},{"s":"sehAB","t":17.0,"y":0.64},{"s":"sehAB","t":17.67,"y":0.645},{"s":"sehAB","t":18.33,"y":0.648},
{"s":"relBE","t":0.33,"y":0.085},{"s":"relBE","t":1.0,"y":0.087},{"s":"relBE","t":1.67,"y":0.09},{"s":"relBE","t":2.33,"y":0.095},{"s":"relBE","t":3.0,"y":0.1},{"s":"relBE","t":3.67,"y":0.12},{"s":"relBE","t":4.33,"y":0.13},{"s":"relBE","t":5.0,"y":0.15},{"s":"relBE","t":5.67,"y":0.165},{"s":"relBE","t":6.33,"y":0.19},{"s":"relBE","t":7.0,"y":0.2},{"s":"relBE","t":7.67,"y":0.22},{"s":"relBE","t":8.33,"y":0.235},{"s":"relBE","t":9.0,"y":0.26},{"s":"relBE","t":9.67,"y":0.28,"e":0.012},{"s":"relBE","t":10.33,"y":0.3,"e":0.012},{"s":"relBE","t":11.0,"y":0.32,"e":0.012},{"s":"relBE","t":11.67,"y":0.335,"e":0.012},{"s":"relBE","t":12.33,"y":0.35,"e":0.012},{"s":"relBE","t":13.0,"y":0.365,"e":0.015},{"s":"relBE","t":13.67,"y":0.385,"e":0.015},{"s":"relBE","t":14.33,"y":0.4,"e":0.015},{"s":"relBE","t":15.0,"y":0.42,"e":0.015},{"s":"relBE","t":15.67,"y":0.44,"e":0.015},{"s":"relBE","t":16.33,"y":0.46,"e":0.015},{"s":"relBE","t":17.0,"y":0.48,"e":0.015},{"s":"relBE","t":17.67,"y":0.505,"e":0.015},{"s":"relBE","t":18.33,"y":0.53,"e":0.02},
{"s":"vapBC","t":0.33,"y":0.085},{"s":"vapBC","t":1.0,"y":0.087},{"s":"vapBC","t":1.67,"y":0.09},{"s":"vapBC","t":2.33,"y":0.095},{"s":"vapBC","t":3.0,"y":0.1},{"s":"vapBC","t":3.67,"y":0.11},{"s":"vapBC","t":4.33,"y":0.13},{"s":"vapBC","t":5.0,"y":0.145},{"s":"vapBC","t":5.67,"y":0.17},{"s":"vapBC","t":6.33,"y":0.195},{"s":"vapBC","t":7.0,"y":0.2},{"s":"vapBC","t":7.67,"y":0.21},{"s":"vapBC","t":8.33,"y":0.22},{"s":"vapBC","t":9.0,"y":0.235},{"s":"vapBC","t":9.67,"y":0.24},{"s":"vapBC","t":10.33,"y":0.248},{"s":"vapBC","t":11.0,"y":0.253},{"s":"vapBC","t":11.67,"y":0.264},{"s":"vapBC","t":12.33,"y":0.29},{"s":"vapBC","t":13.0,"y":0.31},{"s":"vapBC","t":13.67,"y":0.34},{"s":"vapBC","t":14.33,"y":0.36},{"s":"vapBC","t":15.0,"y":0.39},{"s":"vapBC","t":15.67,"y":0.41},{"s":"vapBC","t":16.33,"y":0.44},{"s":"vapBC","t":17.0,"y":0.46},{"s":"vapBC","t":17.67,"y":0.48},{"s":"vapBC","t":18.33,"y":0.5},
{"s":"relBE-3","t":0.33,"y":0.085},{"s":"relBE-3","t":1.0,"y":0.087},{"s":"relBE-3","t":1.67,"y":0.09},{"s":"relBE-3","t":2.33,"y":0.095},{"s":"relBE-3","t":3.0,"y":0.1},{"s":"relBE-3","t":3.67,"y":0.1},{"s":"relBE-3","t":4.33,"y":0.11},{"s":"relBE-3","t":5.0,"y":0.115},{"s":"relBE-3","t":5.67,"y":0.12},{"s":"relBE-3","t":6.33,"y":0.125},{"s":"relBE-3","t":7.0,"y":0.13},{"s":"relBE-3","t":7.67,"y":0.14},{"s":"relBE-3","t":8.33,"y":0.15},{"s":"relBE-3","t":9.0,"y":0.16,"e":0.02},{"s":"relBE-3","t":9.67,"y":0.175,"e":0.02},{"s":"relBE-3","t":10.33,"y":0.185,"e":0.02},{"s":"relBE-3","t":11.0,"y":0.195,"e":0.02},{"s":"relBE-3","t":11.67,"y":0.2,"e":0.02},{"s":"relBE-3","t":12.33,"y":0.215,"e":0.02},{"s":"relBE-3","t":13.0,"y":0.225,"e":0.02},{"s":"relBE-3","t":13.67,"y":0.24,"e":0.02},{"s":"relBE-3","t":14.33,"y":0.25,"e":0.02},{"s":"relBE-3","t":15.0,"y":0.265,"e":0.02},{"s":"relBE-3","t":15.67,"y":0.28,"e":0.02},{"s":"relBE-3","t":16.33,"y":0.305,"e":0.02},{"s":"relBE-3","t":17.0,"y":0.32,"e":0.02},{"s":"relBE-3","t":17.67,"y":0.33,"e":0.02},{"s":"relBE-3","t":18.33,"y":0.365,"e":0.02}
]
},
"spacing":45,
"vconcat":[
{"spacing":46,"resolve":{"scale":{"x":"independent","y":"independent","shape":"independent","fill":"independent","stroke":"independent"},"legend":{"shape":"independent","fill":"independent","stroke":"independent"}},"hconcat":[
 {"title":{"text":"A. Individual deletions","dx":4},"width":243,"height":160,"data":{"name":"A"},
  "encoding":{"x":{"field":"t","type":"quantitative","scale":{"domain":[0,20]},"axis":{"values":[0,5,10,15,20],"title":"Time (hours)"}},
   "y":{"field":"y","type":"quantitative","scale":{"domain":[0,0.65]},"axis":{"values":[0,0.2,0.4,0.6],"format":".1f","title":"OD ₆₀₀"}}},
  "layer":[
   {"transform":[{"filter":"datum.e > 0"}],"mark":{"type":"errorbar","color":"black","thickness":1.5,"ticks":{"size":7,"thickness":1.5,"color":"black"}},"encoding":{"yError":{"field":"e"}}},
   {"mark":{"type":"point","filled":true,"strokeWidth":1.3,"size":40,"opacity":1},
    "encoding":{
     "shape":{"field":"s","type":"nominal","scale":{"domain":["WT","relBE","vapBC","relE-3","relE-5","sehAB","shpAB"],"range":["circle","square","triangle-up","triangle-down","M0,-0.8L0.65,0L0,0.8L-0.65,0Z","circle","square"]},"legend":{"orient":"none","legendX":265,"legendY":23}},
     "fill":{"field":"s","type":"nominal","scale":{"domain":["WT","relBE","vapBC","relE-3","relE-5","sehAB","shpAB"],"range":["black","black","black","black","black","white","white"]},"legend":{"orient":"none","legendX":265,"legendY":23}},
     "stroke":{"field":"s","type":"nominal","scale":{"domain":["WT","relBE","vapBC","relE-3","relE-5","sehAB","shpAB"],"range":["black","black","black","black","black","black","black"]},"legend":{"orient":"none","legendX":265,"legendY":23}}}}
  ]},
 {"title":{"text":"B. Multiple TA deletions","dx":5},"width":243,"height":160,"data":{"name":"B"},
  "encoding":{"x":{"field":"t","type":"quantitative","scale":{"domain":[0,20]},"axis":{"values":[0,5,10,15,20],"title":"Time (hours)"}},
   "y":{"field":"y","type":"quantitative","scale":{"domain":[0,0.6]},"axis":{"values":[0,0.2,0.4,0.6],"format":".1f","title":"OD ₆₀₀"}}},
  "layer":[
   {"transform":[{"filter":"datum.e > 0"}],"mark":{"type":"errorbar","color":"black","thickness":1.5,"ticks":{"size":7,"thickness":1.5,"color":"black"}},"encoding":{"yError":{"field":"e"}}},
   {"mark":{"type":"point","filled":true,"strokeWidth":1.3,"size":40,"opacity":1},
    "encoding":{
     "shape":{"field":"s","type":"nominal","scale":{"domain":["WT","Δ2TA","Δ3TA","Δ4TA","Δ5TA","Δ6TA"],"range":["circle","triangle-down","diamond","M-0.4,-1L0.4,-1L1,-0.4L1,0.4L0.4,1L-0.4,1L-1,0.4L-1,-0.4Z","M0,-1L0.2245,-0.309L0.951,-0.309L0.363,0.118L0.588,0.809L0,0.382L-0.588,0.809L-0.363,0.118L-0.951,-0.309L-0.2245,-0.309Z","M-1,-0.15H-0.15V-1H0.15V-0.15H1V0.15H0.15V1H-0.15V0.15H-1Z"]},"legend":{"orient":"none","legendX":266,"legendY":21,"rowPadding":4,"labelOffset":12,"labelFontSize":11}},
     "fill":{"field":"s","type":"nominal","scale":{"domain":["WT","Δ2TA","Δ3TA","Δ4TA","Δ5TA","Δ6TA"],"range":["black","white","white","black","black","black"]},"legend":{"orient":"none","legendX":266,"legendY":21,"rowPadding":4,"labelOffset":12,"labelFontSize":11}},
     "stroke":{"field":"s","type":"nominal","scale":{"domain":["WT","Δ2TA","Δ3TA","Δ4TA","Δ5TA","Δ6TA"],"range":["black","black","black","black","black","black"]},"legend":{"orient":"none","legendX":266,"legendY":21,"rowPadding":4,"labelOffset":12,"labelFontSize":11}}}}
  ]}
]},
{"spacing":49,"resolve":{"scale":{"x":"independent","y":"independent","shape":"independent","fill":"independent","stroke":"independent"},"legend":{"shape":"independent","fill":"independent","stroke":"independent"}},"hconcat":[
 {"title":{"text":"C. Toxin induction","dx":5},"width":243,"height":160,"data":{"name":"C"},
  "encoding":{"x":{"field":"t","type":"quantitative","scale":{"domain":[0,20]},"axis":{"values":[0,5,10,15,20],"title":"Time (hours)"}},
   "y":{"field":"y","type":"quantitative","scale":{"domain":[0,0.8]},"axis":{"values":[0,0.2,0.4,0.6,0.8],"format":".1f","title":"OD₆₀₀"}}},
  "layer":[
   {"transform":[{"filter":"datum.e > 0"}],"mark":{"type":"errorbar","color":"black","thickness":1.5,"ticks":{"size":7,"thickness":1.5,"color":"black"}},"encoding":{"yError":{"field":"e"}}},
   {"mark":{"type":"point","filled":true,"strokeWidth":1.3,"size":40,"opacity":1},
    "encoding":{
     "shape":{"field":"s","type":"nominal","scale":{"domain":["relE-5","pBAD33","shpAB*","relE","relE-3","vapC","sehA"],"range":["M0,-0.8L0.65,0L0,0.8L-0.65,0Z","circle","square","square","triangle-down","triangle-up","circle"]},"legend":{"orient":"none","legendX":256,"legendY":5,"labelExpr":"datum.label == 'pBAD33' ? 'pBAD₃₃' : datum.label == 'shpAB*' ? ' shpAB*' : datum.label"}},
     "fill":{"field":"s","type":"nominal","scale":{"domain":["relE-5","pBAD33","shpAB*","relE","relE-3","vapC","sehA"],"range":["black","black","white","black","black","black","white"]},"legend":{"orient":"none","legendX":256,"legendY":5,"labelExpr":"datum.label == 'pBAD33' ? 'pBAD₃₃' : datum.label == 'shpAB*' ? ' shpAB*' : datum.label"}},
     "stroke":{"field":"s","type":"nominal","scale":{"domain":["relE-5","pBAD33","shpAB*","relE","relE-3","vapC","sehA"],"range":["black","black","black","black","black","black","black"]},"legend":{"orient":"none","legendX":256,"legendY":5,"labelExpr":"datum.label == 'pBAD33' ? 'pBAD₃₃' : datum.label == 'shpAB*' ? ' shpAB*' : datum.label"}}}}
  ]},
 {"title":{"text":"D. Antitoxin induction","dx":7},"width":243,"height":160,"data":{"name":"D"},
  "encoding":{"x":{"field":"t","type":"quantitative","scale":{"domain":[0,20]},"axis":{"values":[0,5,10,15,20],"title":"Time  (hours)"}},
   "y":{"field":"y","type":"quantitative","scale":{"domain":[0,0.8]},"axis":{"values":[0,0.2,0.4,0.6,0.8],"format":".1f","title":"OD₆₀₀","titleFontSize":15}}},
  "layer":[
   {"transform":[{"filter":"datum.e > 0"}],"mark":{"type":"errorbar","color":"black","thickness":1.5,"ticks":{"size":7,"thickness":1.5,"color":"black"}},"encoding":{"yError":{"field":"e"}}},
   {"mark":{"type":"point","filled":true,"strokeWidth":1.3,"size":40,"opacity":1},
    "encoding":{
     "shape":{"field":"s","type":"nominal","scale":{"domain":["relBE-5","pBAD33","shpAB","sehAB","relBE","vapBC","relBE-3"],"range":["M0,-0.8L0.65,0L0,0.8L-0.65,0Z","circle","square","circle","square","triangle-up","triangle-down"]},"legend":{"orient":"none","legendX":258,"legendY":5,"labelExpr":"datum.label == 'pBAD33' ? 'pBAD₃₃' : datum.label == 'shpAB' ? ' shpAB' : datum.label"}},
     "fill":{"field":"s","type":"nominal","scale":{"domain":["relBE-5","pBAD33","shpAB","sehAB","relBE","vapBC","relBE-3"],"range":["black","black","white","white","black","black","black"]},"legend":{"orient":"none","legendX":258,"legendY":5,"labelExpr":"datum.label == 'pBAD33' ? 'pBAD₃₃' : datum.label == 'shpAB' ? ' shpAB' : datum.label"}},
     "stroke":{"field":"s","type":"nominal","scale":{"domain":["relBE-5","pBAD33","shpAB","sehAB","relBE","vapBC","relBE-3"],"range":["black","black","black","black","black","black","black"]},"legend":{"orient":"none","legendX":258,"legendY":5,"labelExpr":"datum.label == 'pBAD33' ? 'pBAD₃₃' : datum.label == 'shpAB' ? ' shpAB' : datum.label"}}}}
  ]}
]}
]
}
